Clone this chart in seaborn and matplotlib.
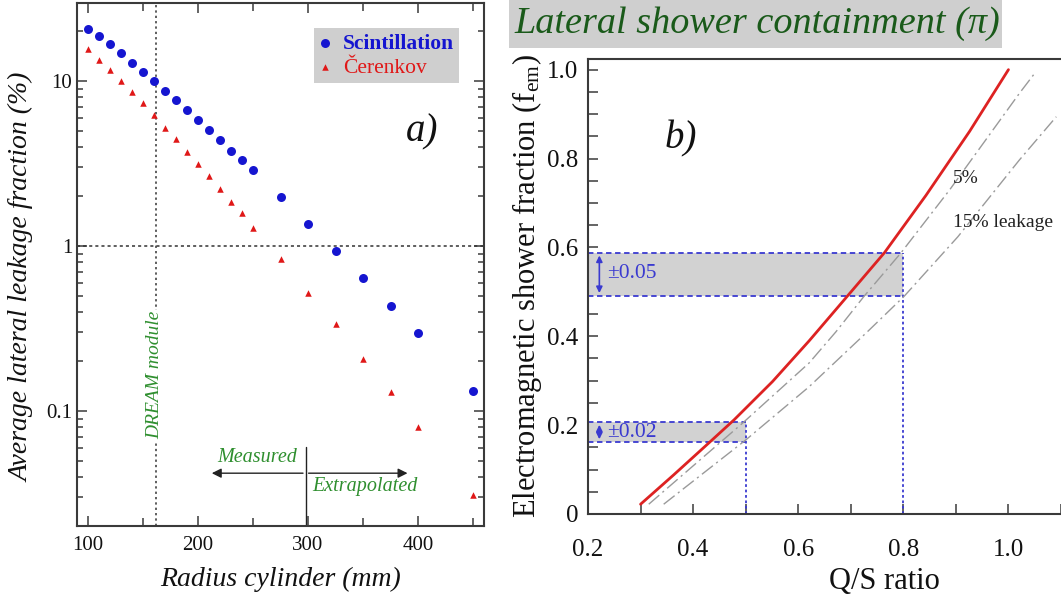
import numpy as np
import pandas as pd
import matplotlib
matplotlib.use("Agg")
import matplotlib.pyplot as plt
import seaborn as sns
from matplotlib.ticker import MultipleLocator, LogLocator, FixedLocator, FixedFormatter, NullFormatter
from matplotlib.patches import Rectangle

# ---------------- data: panel a ----------------
radius_mm = [100, 110, 120, 130, 140, 150, 160, 170, 180, 190, 200, 210, 220, 230, 240, 250,
             275, 300, 325, 350, 375, 400, 450]
scint_leak = [20.8, 18.7, 16.7, 14.7, 12.9, 11.3, 10.0, 8.74, 7.67, 6.67, 5.83, 5.05, 4.37, 3.78,
              3.32, 2.88, 1.98, 1.36, 0.93, 0.64, 0.433, 0.296, 0.133]
cer_leak = [15.6, 13.5, 11.7, 9.95, 8.61, 7.32, 6.22, 5.22, 4.43, 3.71, 3.14, 2.64, 2.22, 1.86,
            1.58, 1.29, 0.84, 0.52, 0.335, 0.208, 0.130, 0.080, 0.031]
dream_radius = 162
ytick_vals_a = [0.1, 1, 10]
ytick_labels_a = ["0.1", "1", "10"]

# ---------------- data: panel b ----------------
red_qs = [0.300, 0.363, 0.430, 0.478, 0.551, 0.621, 0.694, 0.764, 0.843, 0.926, 1.0]
red_fem = [0.022, 0.088, 0.160, 0.212, 0.298, 0.390, 0.491, 0.588, 0.717, 0.861, 1.0]
l5_qs = [0.3156, 0.4936, 0.6208, 0.6717, 0.7257, 0.7957, 0.8878, 1.021, 1.052]
l5_fem = [0.022, 0.204, 0.340, 0.410, 0.4906, 0.588, 0.729, 0.947, 0.995]
l15_qs = [0.344, 0.500, 0.6208, 0.735, 0.802, 0.9038, 1.021, 1.091]
l15_fem = [0.022, 0.1665, 0.2865, 0.414, 0.4906, 0.624, 0.797, 0.894]
box_big = (0.8, 0.491, 0.588)    # Q/S, f_em low, f_em high
box_small = (0.5, 0.162, 0.207)

plt.rcParams['font.family'] = ['Liberation Serif', 'DejaVu Serif']
sns.set_style("ticks")
plt.rcParams['font.family'] = ['Liberation Serif', 'DejaVu Serif']
plt.rcParams['mathtext.default'] = 'regular'

W, H = 1061, 596
fig = plt.figure(figsize=(W / 100, H / 100), dpi=100)
fig.patch.set_facecolor("white")

spine_col = "#3a3a3a"
green_a = "#2f8f2f"
blue_pt = "#1515d0"
red_pt = "#e01818"

# ================= panel a =================
ax1 = fig.add_axes([77 / W, 1 - 526 / H, (484 - 77) / W, (526 - 3) / H])
df_s = pd.DataFrame({"r": radius_mm, "v": scint_leak})
df_c = pd.DataFrame({"r": radius_mm, "v": cer_leak})
sns.scatterplot(data=df_s, x="r", y="v", ax=ax1, marker="o", s=42, color=blue_pt,
                edgecolor=blue_pt, linewidth=0, label="Scintillation", zorder=3)
sns.scatterplot(data=df_c, x="r", y="v", ax=ax1, marker="^", s=22, color=red_pt,
                edgecolor=red_pt, linewidth=0, label="Čerenkov", zorder=3)
ax1.set_yscale("log")
ax1.set_xlim(90, 460)
ax1.set_ylim(0.0201, 29.7)

ax1.axhline(1, color="#333333", lw=1.1, ls=(0, (2, 2)), zorder=1)
ax1.axvline(dream_radius, color="#333333", lw=1.1, ls=(0, (1.5, 2)), zorder=1)

ax1.text(dream_radius - 1, 0.165, "DREAM module", rotation=90, ha="center", va="center",
         color=green_a, style="italic", fontsize=14,
         bbox=dict(facecolor="white", edgecolor="none", pad=1), zorder=2)

# Measured / Extrapolated arrows
ax1.annotate("", xy=(210, 0.042), xytext=(298, 0.042),
             arrowprops=dict(arrowstyle="-|>", color="#222222", lw=1.0, mutation_scale=14))
ax1.annotate("", xy=(393, 0.042), xytext=(298, 0.042),
             arrowprops=dict(arrowstyle="-|>", color="#222222", lw=1.0, mutation_scale=14))
ax1.plot([298, 298], [0.0201, 0.0605], color="#222222", lw=1.0)
ax1.text(290, 0.052, "Measured", ha="right", va="center", color=green_a, style="italic", fontsize=14.5)
ax1.text(304, 0.0347, "Extrapolated", ha="left", va="center", color=green_a, style="italic", fontsize=14.5)

ax1.text(404, 4.9, "a)", ha="center", va="center", style="italic", fontsize=28, color="#111111")

ax1.xaxis.set_major_locator(FixedLocator([100, 200, 300, 400]))
ax1.xaxis.set_minor_locator(FixedLocator([150, 250, 350, 450]))
ax1.yaxis.set_major_locator(FixedLocator(ytick_vals_a))
ax1.yaxis.set_major_formatter(FixedFormatter(ytick_labels_a))
ax1.yaxis.set_minor_locator(LogLocator(base=10, subs=np.arange(2, 10)))
ax1.yaxis.set_minor_formatter(NullFormatter())
ax1.tick_params(which="both", direction="in", top=True, right=True, colors=spine_col,
                labelcolor="#111111", labelsize=15, width=1.1)
ax1.tick_params(which="major", length=7)
ax1.tick_params(axis="x", which="major", pad=7)
ax1.tick_params(which="minor", length=6)
ax1.tick_params(axis="y", which="minor", length=4)
for s in ax1.spines.values():
    s.set_color(spine_col)
    s.set_linewidth(1.5)
ax1.set_xlabel("Radius cylinder (mm)", style="italic", fontsize=20, labelpad=9, color="#111111")
ax1.set_ylabel("Average lateral leakage fraction (%)", style="italic", fontsize=20, color="#111111")
ax1.yaxis.set_label_coords(-0.135, 0.476)
ax1.yaxis.label.set_va("center")

leg = ax1.legend(loc="upper right", bbox_to_anchor=(0.939, 0.952), borderaxespad=0,
                 frameon=True, facecolor="#cfcfcf", edgecolor="none", framealpha=1,
                 fontsize=15.5, handletextpad=0.5, handlelength=0.6, borderpad=0.25,
                 labelspacing=0.2)
leg.get_frame().set_boxstyle("square", pad=0)
for txt, col, wt in zip(leg.get_texts(), [blue_pt, red_pt], ["bold", "normal"]):
    txt.set_color(col)
    txt.set_fontweight(wt)

# ================= panel b =================
ax2 = fig.add_axes([588 / W, 1 - 514 / H, (W - 588) / W, (514 - 59) / H])
ax2.set_xlim(0.2, 1.1)
ax2.set_ylim(0, 1.024)

box_col = "#3a3ad0"
gray_fill = "#d2d2d2"
for qs, lo, hi in [box_big, box_small]:
    ax2.add_patch(Rectangle((0.2, lo), qs - 0.2, hi - lo, facecolor=gray_fill, edgecolor="none", zorder=1))
    ax2.plot([0.2, qs], [hi, hi], color=box_col, lw=1.3, ls=(0, (3, 2)), zorder=2)
    ax2.plot([0.2, qs], [lo, lo], color=box_col, lw=1.3, ls=(0, (3, 2)), zorder=2)
    ax2.plot([qs, qs], [0, hi], color=box_col, lw=1.3, ls=(0, (1.5, 1.5)), zorder=2)
    ax2.annotate("", xy=(0.2216, hi), xytext=(0.2216, lo),
                 arrowprops=dict(arrowstyle="<|-|>", color=box_col, lw=1.2, mutation_scale=9), zorder=3)

ax2.text(0.237, 0.542, "±0.05", color=box_col, fontsize=15.5, ha="left", va="center", zorder=4)
ax2.text(0.237, 0.184, "±0.02", color=box_col, fontsize=15.5, ha="left", va="center", zorder=4)

df_r = pd.DataFrame({"qs": red_qs, "fem": red_fem})
df_5 = pd.DataFrame({"qs": l5_qs, "fem": l5_fem})
df_15 = pd.DataFrame({"qs": l15_qs, "fem": l15_fem})
sns.lineplot(data=df_5, x="qs", y="fem", ax=ax2, sort=False, estimator=None, color="#9a9a9a",
             lw=1.0, zorder=3)
ax2.lines[-1].set_dashes((10, 3, 1.5, 3))
sns.lineplot(data=df_15, x="qs", y="fem", ax=ax2, sort=False, estimator=None, color="#9a9a9a",
             lw=1.0, zorder=3)
ax2.lines[-1].set_dashes((10, 3, 1.5, 3))
sns.lineplot(data=df_r, x="qs", y="fem", ax=ax2, sort=False, estimator=None, color="#dd2222",
             lw=2.0, zorder=4)

ax2.text(0.894, 0.756, "5%", fontsize=14, ha="left", va="center", color="#222222")
ax2.text(0.894, 0.655, "15% leakage", fontsize=14, ha="left", va="center", color="#222222")
ax2.text(0.377, 0.844, "b)", ha="center", va="center", style="italic", fontsize=28, color="#111111")

ax2.xaxis.set_major_locator(FixedLocator([0.2, 0.4, 0.6, 0.8, 1.0]))
ax2.xaxis.set_major_formatter(FixedFormatter(["0.2", "0.4", "0.6", "0.8", "1.0"]))
ax2.xaxis.set_minor_locator(MultipleLocator(0.1))
ax2.yaxis.set_major_locator(FixedLocator([0, 0.2, 0.4, 0.6, 0.8, 1.0]))
ax2.yaxis.set_major_formatter(FixedFormatter(["0", "0.2", "0.4", "0.6", "0.8", "1.0"]))
ax2.yaxis.set_minor_locator(MultipleLocator(0.05))
ax2.tick_params(which="both", direction="in", colors=spine_col, labelcolor="#111111",
                labelsize=18, width=1.1)
ax2.tick_params(which="major", length=7)
ax2.tick_params(axis="y", which="major", pad=7)
ax2.tick_params(axis="x", which="major", pad=18)
ax2.tick_params(which="minor", length=7)
ax2.spines["right"].set_visible(False)
for s in ["left", "bottom", "top"]:
    ax2.spines[s].set_color(spine_col)
    ax2.spines[s].set_linewidth(1.5)
ax2.set_xlabel("Q/S ratio", fontsize=22, color="#111111")
ax2.xaxis.set_label_coords((884 - 588) / (W - 588), -(581 - 514) / (514 - 59))
ax2.xaxis.label.set_va("center")
ax2.set_ylabel(r"Electromagnetic shower fraction (f$_{em}$)", fontsize=22, color="#111111")
ax2.yaxis.set_label_coords(-(588 - 527) / (W - 588), 0.5)
ax2.yaxis.label.set_va("center")

# title box
fig.patches.append(Rectangle((509 / W, 1 - 48 / H), (1002 - 509) / W, 48 / H,
                             transform=fig.transFigure, facecolor="#cfcfcf", edgecolor="none"))
fig.text(514 / W, 1 - 24 / H, "Lateral shower containment (π)", ha="left", va="center",
         style="italic", fontsize=27.5, color="#1a5a1a")

fig.savefig("out.png", dpi=100)
